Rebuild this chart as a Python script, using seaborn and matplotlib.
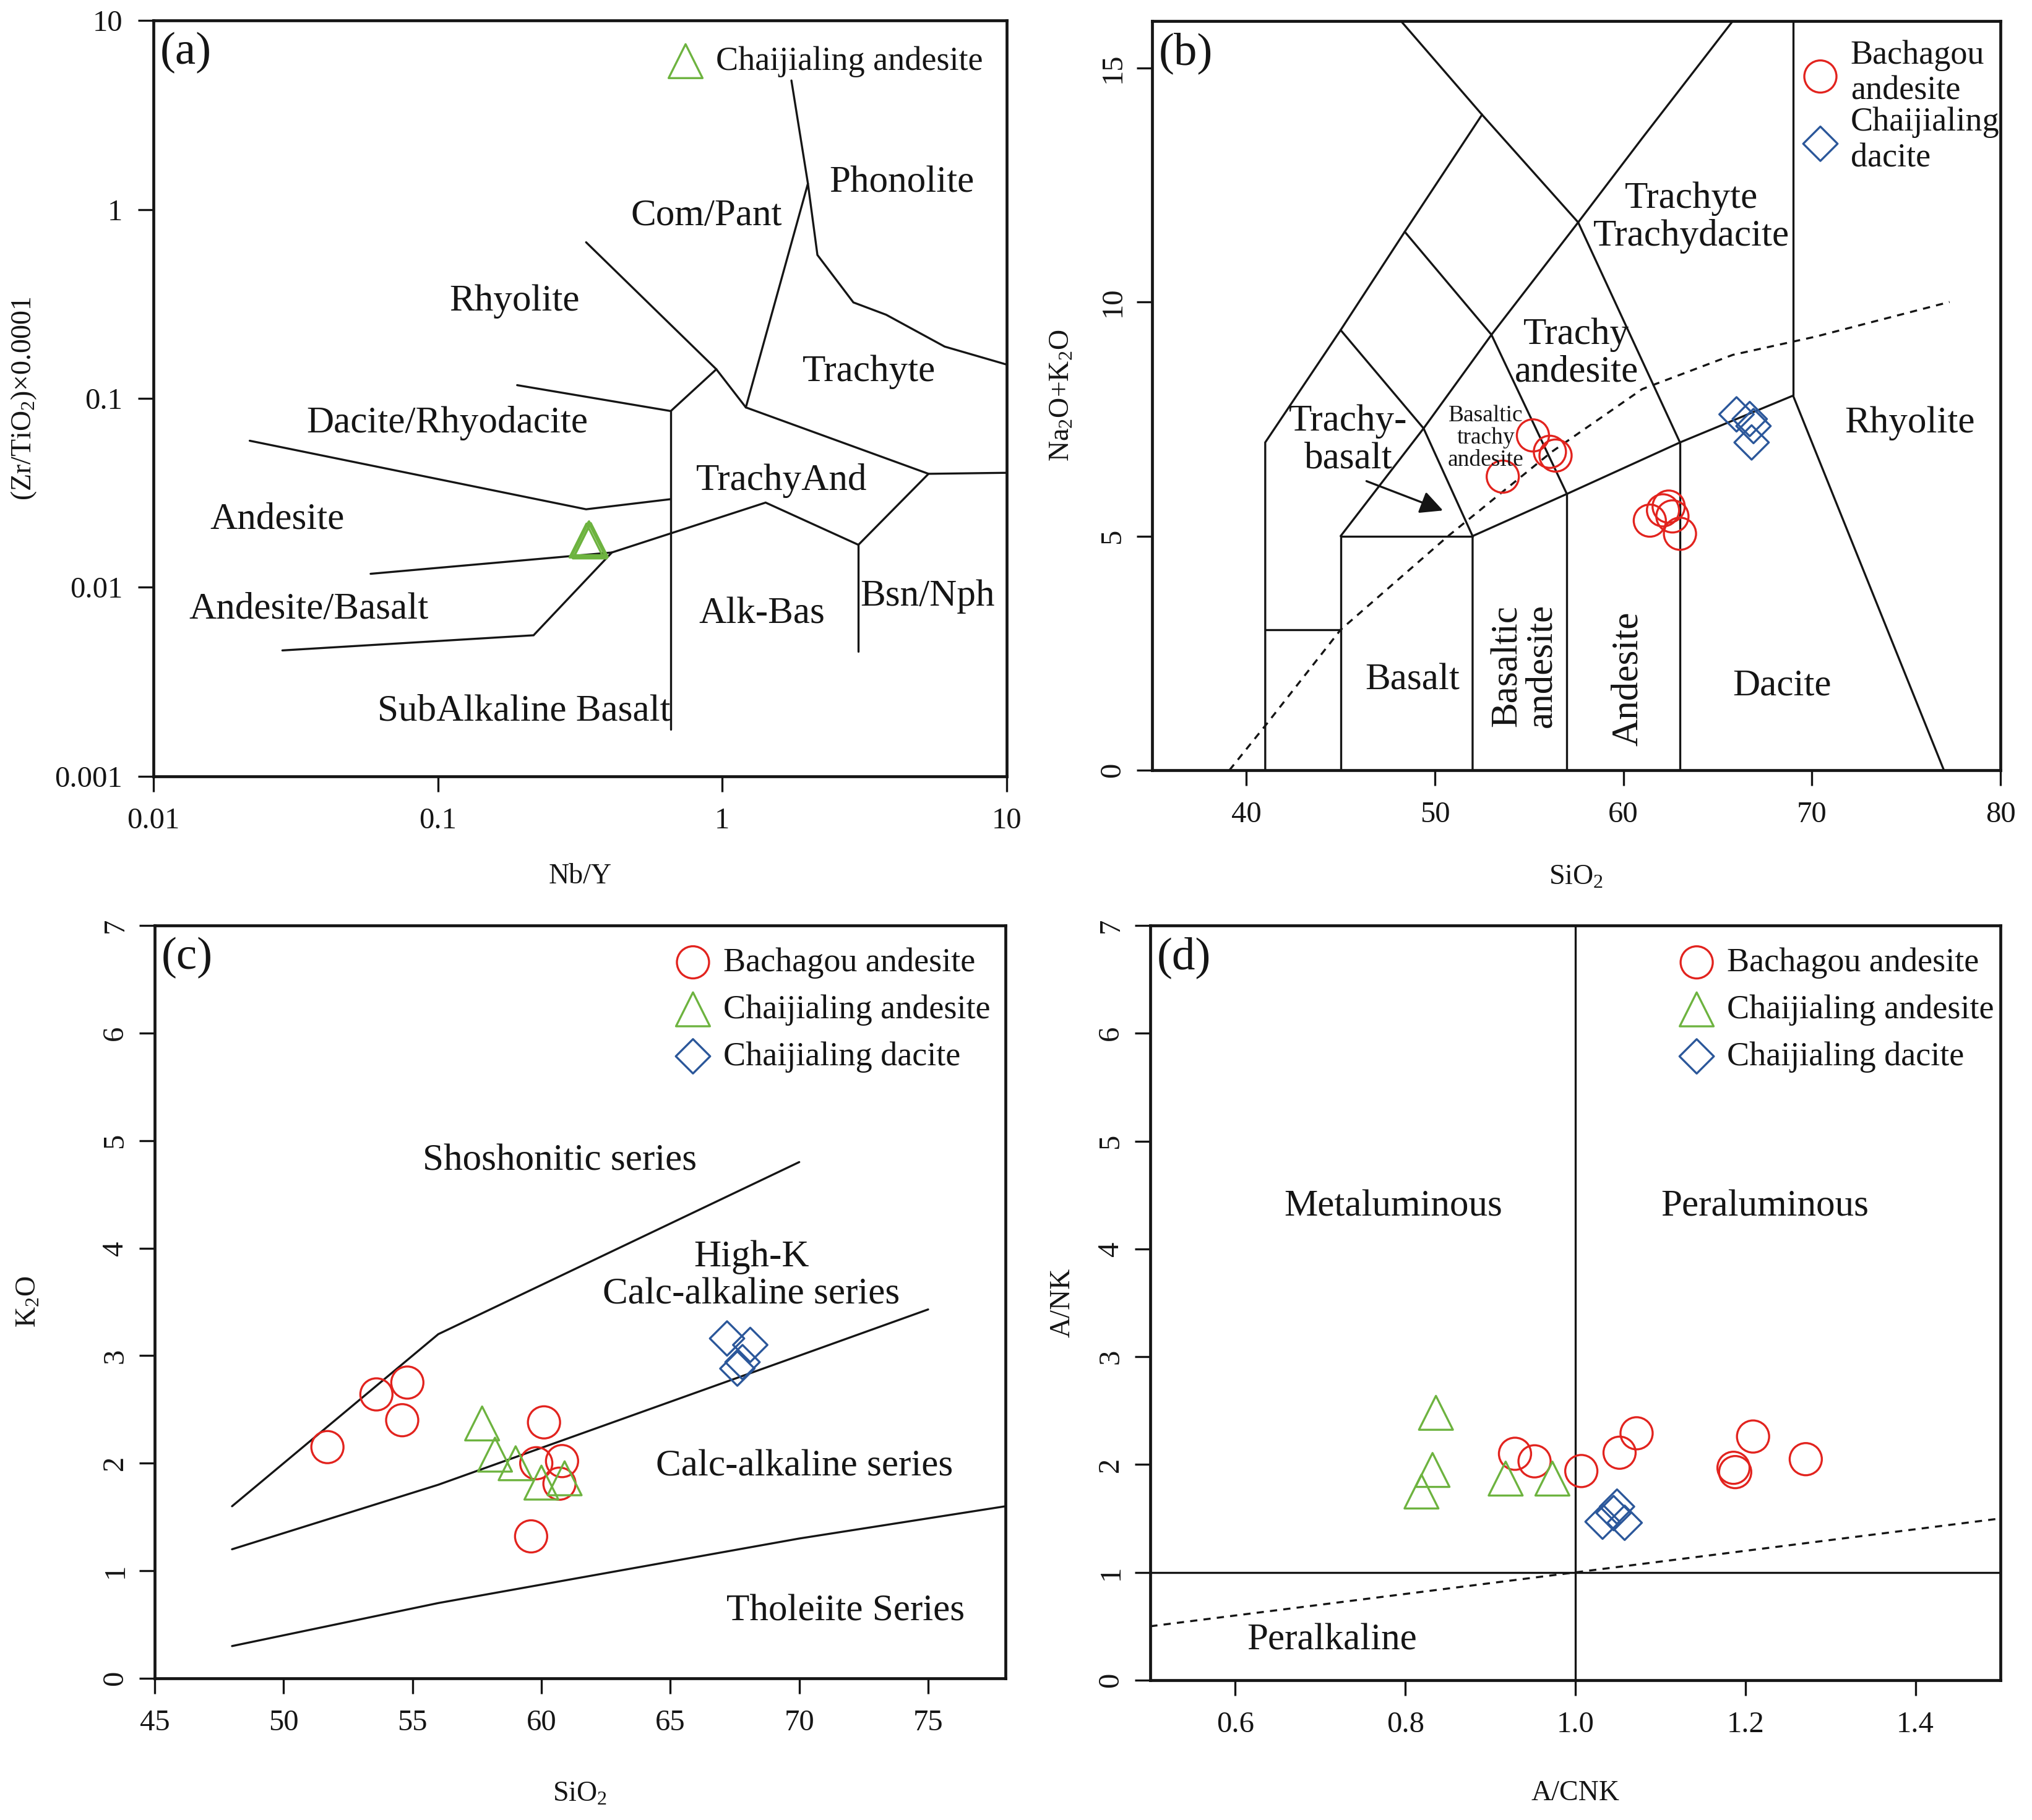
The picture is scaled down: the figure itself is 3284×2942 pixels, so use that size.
import matplotlib
matplotlib.use('agg')
import matplotlib.pyplot as plt
import seaborn as sns

RED = '#e2231e'
GREEN = '#6db33f'
BLUE = '#2b579a'
INK = '#151515'

# ---------------- (a) Nb/Y vs Zr/TiO2 ----------------
a_chai_and_nby = [0.333, 0.338, 0.342, 0.345, 0.340]
a_chai_and_zrti = [0.0177, 0.0180, 0.0175, 0.0178, 0.0182]
a_fields = [
    [(0.332, 0.67), (0.953, 0.1426), (1.21, 0.0896)],
    [(0.19, 0.1175), (0.659, 0.0857), (0.953, 0.1426)],
    [(0.659, 0.0857), (0.659, 0.00177)],
    [(0.0218, 0.0597), (0.332, 0.0259), (0.659, 0.0293)],
    [(0.058, 0.0118), (0.409, 0.0153)],
    [(0.0284, 0.00464), (0.217, 0.00558), (0.409, 0.0153), (1.42, 0.0281),
     (3.01, 0.0168), (5.31, 0.0399), (10, 0.0404)],
    [(1.21, 0.0896), (5.31, 0.0399)],
    [(3.01, 0.0168), (3.01, 0.0046)],
    [(1.21, 0.0896), (2.0, 1.37), (1.75, 4.81)],
    [(2.0, 1.37), (2.16, 0.574), (2.89, 0.322), (3.77, 0.277), (6.05, 0.188), (10, 0.151)],
]

# ---------------- (b) TAS ----------------
b_bach_sio2 = [55.2, 56.1, 56.4, 53.6, 61.4, 62.1, 62.4, 62.6, 63.0]
b_bach_alk = [7.15, 6.8, 6.72, 6.27, 5.33, 5.55, 5.63, 5.42, 5.05]
b_dac_sio2 = [66.0, 66.7, 66.9, 66.8]
b_dac_alk = [7.6, 7.5, 7.35, 7.0]
b_fields = [
    [(41, 0), (41, 7), (45, 9.4), (48.4, 11.5), (52.5, 14), (57.6, 11.7), (63, 7)],
    [(48.2, 16), (52.5, 14)],
    [(41, 3), (45, 3)],
    [(45, 0), (45, 5), (52, 5)],
    [(45, 5), (49.4, 7.3), (53, 9.3), (57.6, 11.7), (61, 13.5), (65.8, 16)],
    [(45, 9.4), (49.4, 7.3), (52, 5)],
    [(48.4, 11.5), (53, 9.3), (57, 5.9)],
    [(52, 0), (52, 5), (57, 5.9), (63, 7), (69, 8), (77, 0)],
    [(57, 0), (57, 5.9)],
    [(63, 0), (63, 7)],
    [(69, 8), (69, 16)],
]
b_alkaline_divide = [(39.1, 0), (41.1, 1.0), (45, 3.0), (50.7, 5.0), (56.2, 6.8),
                     (61, 8.14), (65.8, 8.87), (70.2, 9.26), (77.3, 10.0)]

# ---------------- (c) SiO2 vs K2O ----------------
c_bach_sio2 = [51.7, 53.6, 54.8, 54.6, 60.1, 59.8, 60.8, 60.7, 59.6]
c_bach_k2o = [2.15, 2.64, 2.75, 2.40, 2.38, 2.00, 2.02, 1.81, 1.32]
c_and_sio2 = [57.7, 58.2, 59.0, 60.0, 60.9]
c_and_k2o = [2.37, 2.08, 2.00, 1.82, 1.86]
c_dac_sio2 = [67.2, 68.1, 67.8, 67.6]
c_dac_k2o = [3.16, 3.10, 2.94, 2.88]
c_fields = [
    [(48, 1.6), (56, 3.2), (70, 4.8)],
    [(48, 1.2), (56, 1.8), (63, 2.4), (70, 3.0), (75, 3.43)],
    [(48, 0.3), (56, 0.7), (63, 1.0), (70, 1.3), (78, 1.6)],
]

# ---------------- (d) A/CNK vs A/NK ----------------
d_bach_acnk = [0.929, 0.952, 1.007, 1.052, 1.072, 1.186, 1.188, 1.209, 1.271]
d_bach_ank = [2.10, 2.03, 1.94, 2.11, 2.29, 1.97, 1.93, 2.26, 2.05]
d_and_acnk = [0.836, 0.832, 0.819, 0.918, 0.973]
d_and_ank = [2.48, 1.95, 1.75, 1.87, 1.87]
d_dac_acnk = [1.032, 1.049, 1.058, 1.045]
d_dac_ank = [1.47, 1.61, 1.46, 1.55]
d_fields = [
    [(1.0, 0), (1.0, 7)],
    [(0.5, 1.0), (1.5, 1.0)],
]
d_dashed = [(0.5, 0.5), (1.5, 1.5)]

sns.set_style('ticks')
plt.rcParams['font.family'] = ['Liberation Serif', 'DejaVu Serif']
plt.rcParams['mathtext.fontset'] = 'custom'
plt.rcParams['mathtext.rm'] = 'Liberation Serif'
plt.rcParams['mathtext.it'] = 'Liberation Serif:italic'
plt.rcParams['text.color'] = INK
plt.rcParams['axes.labelcolor'] = INK
plt.rcParams['xtick.color'] = INK
plt.rcParams['ytick.color'] = INK

W, H = 3284, 2942
fig = plt.figure(figsize=(W / 200, H / 200), dpi=200)


def rect(l, t, r, b):
    return [l / W, 1 - b / H, (r - l) / W, (b - t) / H]


LABEL = 22
LEG = 19.5
TICK = 17.5
AXLAB = 16.5

MARK = {'bach': ('o', RED, 350), 'and': ('^', GREEN, 390), 'dac': ('D', BLUE, 200)}


def dots(ax, x, y, kind, label=None):
    m, c, s = MARK[kind]
    sns.scatterplot(x=x, y=y, ax=ax, marker=m, s=s, color=c, facecolor='none',
                    edgecolor=c, linewidth=1.2, label=label, legend=False, zorder=3)


def boundaries(ax, lines, **kw):
    for seg in lines:
        xs, ys = zip(*seg)
        ax.plot(xs, ys, color=INK, lw=1.2, solid_joinstyle='miter', **kw)


def frame(ax, rot_y=True):
    for sp in ax.spines.values():
        sp.set_linewidth(1.7)
        sp.set_color(INK)
    ax.tick_params(axis='both', direction='out', length=9, width=1.2, labelsize=TICK)
    ax.tick_params(axis='x', pad=9)
    if rot_y:
        ax.tick_params(axis='y', pad=6, labelrotation=90)
        for t in ax.get_yticklabels():
            t.set_va('center')
    else:
        ax.tick_params(axis='y', pad=9)
    ax.minorticks_off()


def place_labels(ax, xl, yl, xy, yx):
    ax.set_xlabel(xl, fontsize=AXLAB)
    ax.set_ylabel(yl, fontsize=AXLAB)
    ax.xaxis.set_label_coords(0.5, xy)
    ax.yaxis.set_label_coords(yx, 0.5)
    ax.xaxis.label.set_va('center')
    ax.yaxis.label.set_va('center')


def panel_tag(ax, tag):
    ax.text(0.008, 0.957, tag, transform=ax.transAxes, fontsize=27, ha='left', va='center')


def legend(ax, x0, y0, spacing=0.47, linespacing=None):
    leg = ax.legend(loc='upper left', bbox_to_anchor=(x0, y0), frameon=False, borderaxespad=0,
                    borderpad=0, handlelength=1.0, handletextpad=0.4, labelspacing=spacing,
                    fontsize=LEG, scatterpoints=1)
    if linespacing:
        for t in leg.get_texts():
            t.set_linespacing(linespacing)


# ---------- (a) ----------
ax = fig.add_axes(rect(248, 33, 1627, 1255))
ax.set_xscale('log')
ax.set_yscale('log')
boundaries(ax, a_fields)
dots(ax, a_chai_and_nby, a_chai_and_zrti, 'and', 'Chaijialing andesite')
ax.set_xlim(0.01, 10)
ax.set_ylim(0.001, 10)
ax.set_xticks([0.01, 0.1, 1, 10], ['0.01', '0.1', '1', '10'])
ax.set_yticks([0.001, 0.01, 0.1, 1, 10], ['0.001', '0.01', '0.1', '1', '10'])
frame(ax, rot_y=False)
place_labels(ax, 'Nb/Y', r'(Zr/TiO$_2$)×0.0001', -0.132, -0.152)
panel_tag(ax, '(a)')
legend(ax, 0.604, 0.966)
for txt, fx, fy in [('Phonolite', 0.877, 0.785), ('Com/Pant', 0.648, 0.741),
                    ('Rhyolite', 0.423, 0.628), ('Trachyte', 0.839, 0.535),
                    ('Dacite/Rhyodacite', 0.344, 0.467), ('TrachyAnd', 0.736, 0.391),
                    ('Andesite', 0.145, 0.340), ('Andesite/Basalt', 0.182, 0.221),
                    ('Alk-Bas', 0.713, 0.215), ('Bsn/Nph', 0.907, 0.238),
                    ('SubAlkaline Basalt', 0.434, 0.086)]:
    ax.text(fx, fy, txt, transform=ax.transAxes, fontsize=LABEL, ha='center', va='center')

# ---------- (b) ----------
ax = fig.add_axes(rect(1862, 34, 3233, 1245))
boundaries(ax, b_fields)
xs, ys = zip(*b_alkaline_divide)
ax.plot(xs, ys, color=INK, lw=1.2, ls=(0, (3.5, 3)))
dots(ax, b_bach_sio2, b_bach_alk, 'bach', 'Bachagou\nandesite')
dots(ax, b_dac_sio2, b_dac_alk, 'dac', 'Chaijialing\ndacite')
ax.annotate('', xy=(50.6, 5.52), xytext=(46.2, 6.2),
            arrowprops=dict(arrowstyle='-|>', color=INK, lw=1.2, mutation_scale=28))
ax.set_xlim(35, 80)
ax.set_ylim(0, 16)
ax.set_xticks([40, 50, 60, 70, 80])
ax.set_yticks([0, 5, 10, 15])
frame(ax)
place_labels(ax, r'SiO$_2$', r'Na$_2$O+K$_2$O', -0.143, -0.106)
panel_tag(ax, '(b)')
legend(ax, 0.768, 0.975, spacing=0.0, linespacing=1.2)
for txt, x, y, kw in [
    ('Trachyte\nTrachydacite', 63.6, 11.8, {}),
    ('Trachy\nandesite', 57.5, 8.9, {}),
    ('Trachy-\nbasalt', 45.4, 7.05, {}),
    ('Basaltic\ntrachy\nandesite', 52.7, 7.1, {'fontsize': 13.5, 'linespacing': 1.05}),
    ('Rhyolite', 75.2, 7.41, {}),
    ('Basalt', 48.8, 1.92, {}),
    ('Basaltic\nandesite', 54.75, 2.23, {'rotation': 90, 'linespacing': 1.0}),
    ('Andesite', 60.25, 1.95, {'rotation': 90}),
    ('Dacite', 68.4, 1.8, {}),
]:
    opts = dict(fontsize=LABEL, ha='center', va='center', linespacing=1.12)
    opts.update(kw)
    ax.text(x, y, txt, **opts)

# ---------- (c) ----------
ax = fig.add_axes(rect(250, 1496, 1625, 2713))
boundaries(ax, c_fields)
dots(ax, c_bach_sio2, c_bach_k2o, 'bach', 'Bachagou andesite')
dots(ax, c_and_sio2, c_and_k2o, 'and', 'Chaijialing andesite')
dots(ax, c_dac_sio2, c_dac_k2o, 'dac', 'Chaijialing dacite')
ax.set_xlim(45, 78)
ax.set_ylim(0, 7)
ax.set_xticks([45, 50, 55, 60, 65, 70, 75])
ax.set_yticks(range(8))
frame(ax)
place_labels(ax, r'SiO$_2$', r'K$_2$O', -0.154, -0.148)
panel_tag(ax, '(c)')
legend(ax, 0.613, 0.971)
for txt, x, y in [('Shoshonitic series', 60.7, 4.81),
                  ('High-K\nCalc-alkaline series', 68.15, 3.74),
                  ('Calc-alkaline series', 70.2, 1.97),
                  ('Tholeiite Series', 71.8, 0.62)]:
    ax.text(x, y, txt, fontsize=LABEL, ha='center', va='center', linespacing=1.12)

# ---------- (d) ----------
ax = fig.add_axes(rect(1859, 1496, 3233, 2716))
boundaries(ax, d_fields)
xs, ys = zip(*d_dashed)
ax.plot(xs, ys, color=INK, lw=1.2, ls=(0, (3.5, 3)))
dots(ax, d_bach_acnk, d_bach_ank, 'bach', 'Bachagou andesite')
dots(ax, d_and_acnk, d_and_ank, 'and', 'Chaijialing andesite')
dots(ax, d_dac_acnk, d_dac_ank, 'dac', 'Chaijialing dacite')
ax.set_xlim(0.5, 1.5)
ax.set_ylim(0, 7)
ax.set_xticks([0.6, 0.8, 1.0, 1.2, 1.4], ['0.6', '0.8', '1.0', '1.2', '1.4'])
ax.set_yticks(range(8))
frame(ax)
place_labels(ax, 'A/CNK', 'A/NK', -0.15, -0.103)
panel_tag(ax, '(d)')
legend(ax, 0.623, 0.971)
for txt, x, y in [('Metaluminous', 0.786, 4.39), ('Peraluminous', 1.223, 4.39),
                  ('Peralkaline', 0.714, 0.37)]:
    ax.text(x, y, txt, fontsize=LABEL, ha='center', va='center')

fig.savefig('out.png', dpi=200, facecolor='white')
